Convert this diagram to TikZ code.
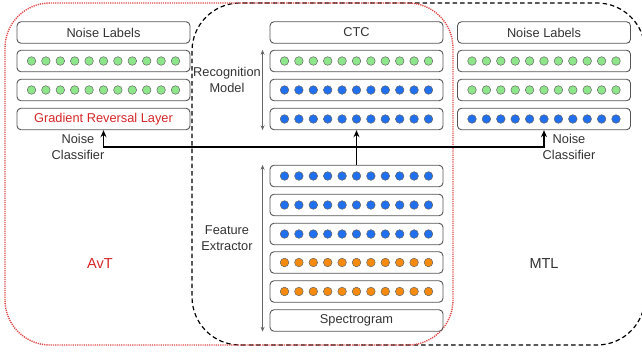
\documentclass[tikz,border=0pt]{standalone}
\usepackage{fontspec}
\setmainfont{Liberation Sans}
\usetikzlibrary{arrows.meta}
\definecolor{dotgreen}{HTML}{8EE68A}
\definecolor{dotblue}{HTML}{1F6FEF}
\definecolor{dotorange}{HTML}{F58A0F}
\definecolor{boxgray}{HTML}{555555}
\definecolor{textgray}{HTML}{333333}
\definecolor{avtred}{HTML}{D62728}
\definecolor{borderred}{HTML}{E04848}

% one row of eleven neurons inside a layer box
\newcommand{\dotrow}[2]{%
  \foreach \k in {-5,...,5}
    \draw[dotline,fill=#2] ([xshift=\k*14.4pt]#1.center) circle (4.3pt);}

\begin{document}
\begin{tikzpicture}[x=1pt,y=-1pt,
      font=\fontsize{12.8}{16}\selectfont,
      layer/.style={rectangle,draw=boxgray,line width=0.9pt,rounded corners=4pt,
                    minimum width=173pt,minimum height=21.5pt,
                    inner sep=0pt,text=textgray},
      dotline/.style={draw=black!60,line width=0.5pt},
      lbl/.style={align=center,text=textgray},
      big/.style={font=\fontsize{14.5}{17}\selectfont},
      flow/.style={-{Stealth[length=7pt,width=6pt]},line width=1.3pt},
      span/.style={{Stealth[length=5pt,width=4pt]}-{Stealth[length=5pt,width=4pt]},
                   draw=black!60,line width=0.7pt},
      avtline/.style={draw=borderred,line width=1.4pt,dash pattern=on 1.2pt off 1pt,
                      rounded corners=45pt},
      mtlline/.style={draw=black,line width=1.2pt,dash pattern=on 4.5pt off 3pt,
                      rounded corners=48pt}]
    \useasboundingbox (0,0) rectangle (642,351);
    %% -- the two training set-ups ---------------------------
    \draw[mtlline] (192,3) rectangle (645,345);
    \draw[avtline] (5,3) rectangle (453,345);
    %% -- AvT noise branch (left) ----------------------------
    \node[layer] (nlA)  at (103.5,32.5) {Noise Labels};
    \node[layer] (avt1) at (103.5,61)   {};
    \node[layer] (avt2) at (103.5,90)   {};
    \node[layer,text=avtred] (grl) at (103.5,119) {Gradient Reversal Layer};
    %% -- shared recognition model ---------------------------
    \node[layer] (ctc)  at (356.5,32.5) {CTC};
    \node[layer] (rec1) at (356.5,61)   {};
    \node[layer] (rec2) at (356.5,90)   {};
    \node[layer] (rec3) at (356.5,119)  {};
    %% -- feature extractor ----------------------------------
    \node[layer] (fe1)  at (356.5,176)   {};
    \node[layer] (fe2)  at (356.5,205)   {};
    \node[layer] (fe3)  at (356.5,234)   {};
    \node[layer] (fe4)  at (356.5,262.5) {};
    \node[layer] (fe5)  at (356.5,291.5) {};
    \node[layer] (spec) at (356.5,320.5) {Spectrogram};
    %% -- MTL noise branch (right) ---------------------------
    \node[layer] (nlB)  at (544,32.5) {Noise Labels};
    \node[layer] (mtl1) at (544,61)   {};
    \node[layer] (mtl2) at (544,90)   {};
    \node[layer] (mtl3) at (544,119)  {};
    %% -- neurons --------------------------------------------
    \dotrow{avt1}{dotgreen}
    \dotrow{avt2}{dotgreen}
    \dotrow{rec1}{dotgreen}
    \dotrow{rec2}{dotblue}
    \dotrow{rec3}{dotblue}
    \dotrow{fe1}{dotblue}
    \dotrow{fe2}{dotblue}
    \dotrow{fe3}{dotblue}
    \dotrow{fe4}{dotorange}
    \dotrow{fe5}{dotorange}
    \dotrow{mtl1}{dotgreen}
    \dotrow{mtl2}{dotgreen}
    \dotrow{mtl3}{dotblue}
    %% -- connectors -----------------------------------------
    \coordinate (hub) at (356.5,147);
    \draw[flow] (fe1.north) -- (rec3.south);
    \draw[flow] (hub) -| (grl.south);
    \draw[flow] (hub) -| (mtl3.south);
    \draw[span] ([xshift=-7pt]rec1.north west) -- ([xshift=-7pt]rec3.south west);
    \draw[span] ([xshift=-7pt]fe1.north west) -- ([xshift=-7pt]spec.south west);
    %% -- labels ---------------------------------------------
    \node[lbl] (ncA) at (78,147)  {Noise\\Classifier};
    \node[lbl] (ncB) at (569,147) {Noise\\Classifier};
    \node[lbl] (recl) at (227,80)  {Recognition\\Model};
    \node[lbl] (fel)  at (227,238) {Feature\\Extractor};
    \node[big,text=avtred] (avt) at (100,264) {AvT};
    \node[big,text=textgray] (mtl) at (544,264) {MTL};
  \end{tikzpicture}
\end{document}
